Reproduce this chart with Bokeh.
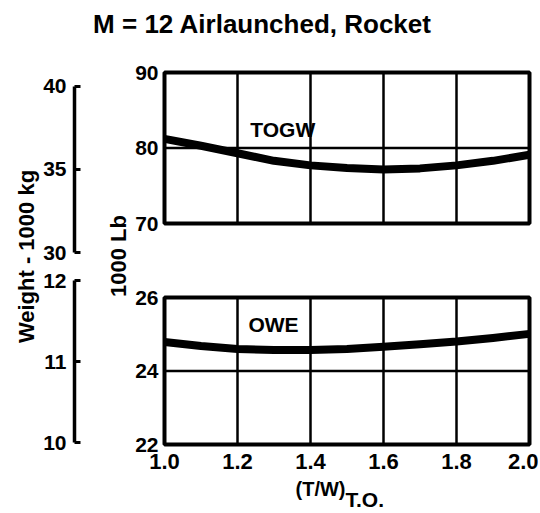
import math
from bokeh.plotting import figure
from bokeh.models import Range1d, LinearAxis, FixedTicker, Label, NumeralTickFormatter
from bokeh.embed import file_html
from bokeh.resources import INLINE

# ---------------- data ----------------
TW = [1.0, 1.1, 1.2, 1.3, 1.4, 1.5, 1.6, 1.7, 1.8, 1.9, 2.0]
TOGW_KLB = [81.2, 80.3, 79.3, 78.3, 77.7, 77.35, 77.15, 77.3, 77.7, 78.3, 79.1]
OWE_KLB = [24.79, 24.68, 24.60, 24.57, 24.57, 24.60, 24.66, 24.73, 24.80, 24.90, 25.01]

X_TICKS = [1.0, 1.2, 1.4, 1.6, 1.8, 2.0]
TOGW_TICKS = [70, 80, 90]
OWE_TICKS = [22, 24, 26]
KG_TOP_TICKS = [30, 35, 40]
KG_BOT_TICKS = [10, 11, 12]
LB_PER_KG = 2.20462

TITLE = "M = 12 Airlaunched, Rocket"
LB_LABEL = "1000 Lb"
KG_LABEL = "Weight - 1000 kg"
X_LABEL = "(T/W)"
X_LABEL_SUB = "T.O."

# ---------------- layout (canvas px, frame = whole canvas) ----------------
FONT = "Liberation Sans"
W, H = 538, 511
PX_X = 365.0                 # px per unit T/W
X0_PX = 164                  # px of T/W = 1.0
KG_AXIS_PX = 74              # px of the kg brackets
x_start = X_TICKS[0] - X0_PX / PX_X
x_end = X_TICKS[-1] + (W - (X0_PX + PX_X)) / PX_X
x_kg = X_TICKS[0] - (X0_PX - KG_AXIS_PX) / PX_X

PX_TOP = 7.55                # px per 1000 lb (top)
top_end = TOGW_TICKS[-1] + 72 / PX_TOP
top_start = TOGW_TICKS[0] - (H - 223) / PX_TOP
PX_BOT = 36.75               # px per 1000 lb (bottom)
bot_end = OWE_TICKS[-1] + 297 / PX_BOT
bot_start = OWE_TICKS[0] - (H - 444) / PX_BOT

p = figure(width=W, height=H, output_backend="svg", toolbar_location=None, title=None,
           x_range=Range1d(x_start, x_end), y_range=Range1d(top_start, top_end),
           x_axis_location=None, y_axis_location=None,
           min_border=0, min_border_left=0, min_border_right=0,
           min_border_top=0, min_border_bottom=0,
           outline_line_color=None, background_fill_color="white",
           border_fill_color="white")
p.grid.visible = False
p.extra_y_ranges = {
    "kg_top": Range1d(top_start / LB_PER_KG, top_end / LB_PER_KG),
    "lb_bot": Range1d(bot_start, bot_end),
    "kg_bot": Range1d(bot_start / LB_PER_KG, bot_end / LB_PER_KG),
}

BOX_W = 4
GRID_W = 2.5
CURVE_W = 8

panels = [("default", TOGW_TICKS, TOGW_KLB), ("lb_bot", OWE_TICKS, OWE_KLB)]
for rname, ticks, vals in panels:
    lo, hi = min(ticks), max(ticks)
    inner_x = X_TICKS[1:-1]
    p.segment(x0=inner_x, y0=[lo] * len(inner_x), x1=inner_x, y1=[hi] * len(inner_x),
              line_color="black", line_width=GRID_W, y_range_name=rname)
    inner_y = ticks[1:-1]
    p.segment(x0=[X_TICKS[0]] * len(inner_y), y0=inner_y,
              x1=[X_TICKS[-1]] * len(inner_y), y1=inner_y,
              line_color="black", line_width=GRID_W, y_range_name=rname)
    p.quad(left=[X_TICKS[0]], right=[X_TICKS[-1]], bottom=[lo], top=[hi],
           fill_color=None, line_color="black", line_width=BOX_W, y_range_name=rname)
    p.line(TW, vals, line_color="black", line_width=CURVE_W, line_join="round",
           y_range_name=rname)


def style_axis(ax, size="21px"):
    ax.major_label_text_font = FONT
    ax.major_label_text_font_style = "bold"
    ax.major_label_text_font_size = size
    ax.major_label_text_color = "black"
    ax.minor_tick_line_color = None
    ax.axis_label_text_font = FONT
    ax.axis_label_text_font_style = "bold"
    ax.axis_label_text_font_size = "22px"
    ax.axis_label_text_color = "black"


# lb axes at T/W = 1.0 (panel edge acts as axis line)
for rname, ticks, label in [("default", TOGW_TICKS, LB_LABEL), ("lb_bot", OWE_TICKS, None)]:
    ax = LinearAxis(y_range_name=rname, fixed_location=X_TICKS[0],
                    ticker=FixedTicker(ticks=ticks),
                    axis_line_color=None, major_tick_line_color=None,
                    major_tick_in=0, major_tick_out=0, major_label_standoff=6)
    if label:
        ax.axis_label = label
        ax.axis_label_standoff = 1
    style_axis(ax)
    p.add_layout(ax, "left")

# kg axes (brackets)
for rname, ticks in [("kg_top", KG_TOP_TICKS), ("kg_bot", KG_BOT_TICKS)]:
    ax = LinearAxis(y_range_name=rname, fixed_location=x_kg,
                    ticker=FixedTicker(ticks=ticks), bounds=(min(ticks), max(ticks)),
                    axis_line_color="black", axis_line_width=3.5,
                    major_tick_line_color="black", major_tick_line_width=3,
                    major_tick_in=6, major_tick_out=0, major_label_standoff=8)
    style_axis(ax)
    p.add_layout(ax, "left")

# x axis along the bottom of the lower panel
xa = LinearAxis(y_range_name="lb_bot", fixed_location=OWE_TICKS[0],
                ticker=FixedTicker(ticks=X_TICKS), formatter=NumeralTickFormatter(format="0.0"),
                axis_line_color=None, major_tick_line_color=None,
                major_tick_in=0, major_tick_out=0, major_label_standoff=9)
style_axis(xa, "22px")
p.add_layout(xa, "below")

# texts
common = dict(text_font=FONT, text_font_style="bold", text_color="black")
p.add_layout(Label(x=262, y=H - 23, x_units="screen", y_units="screen", text=TITLE,
                   text_align="center", text_baseline="middle", text_font_size="26px", **common))
p.add_layout(Label(x=26, y=H - 256, x_units="screen", y_units="screen", text=KG_LABEL,
                   angle=math.pi / 2, text_align="center", text_baseline="middle",
                   text_font_size="22px", **common))
p.add_layout(Label(x=1.235, y=82.4, text="TOGW", text_align="left", text_baseline="middle",
                   text_font_size="21px", **common))
p.add_layout(Label(x=1.23, y=25.27, y_range_name="lb_bot", text="OWE", text_align="left",
                   text_baseline="middle", text_font_size="21px", **common))
p.add_layout(Label(x=295, y=H - 488, x_units="screen", y_units="screen", text=X_LABEL,
                   text_align="left", text_baseline="middle", text_font_size="20px", **common))
p.add_layout(Label(x=345, y=H - 499, x_units="screen", y_units="screen", text=X_LABEL_SUB,
                   text_align="left", text_baseline="middle", text_font_size="21px", **common))

open("out.html", "w").write(file_html(p, INLINE))
